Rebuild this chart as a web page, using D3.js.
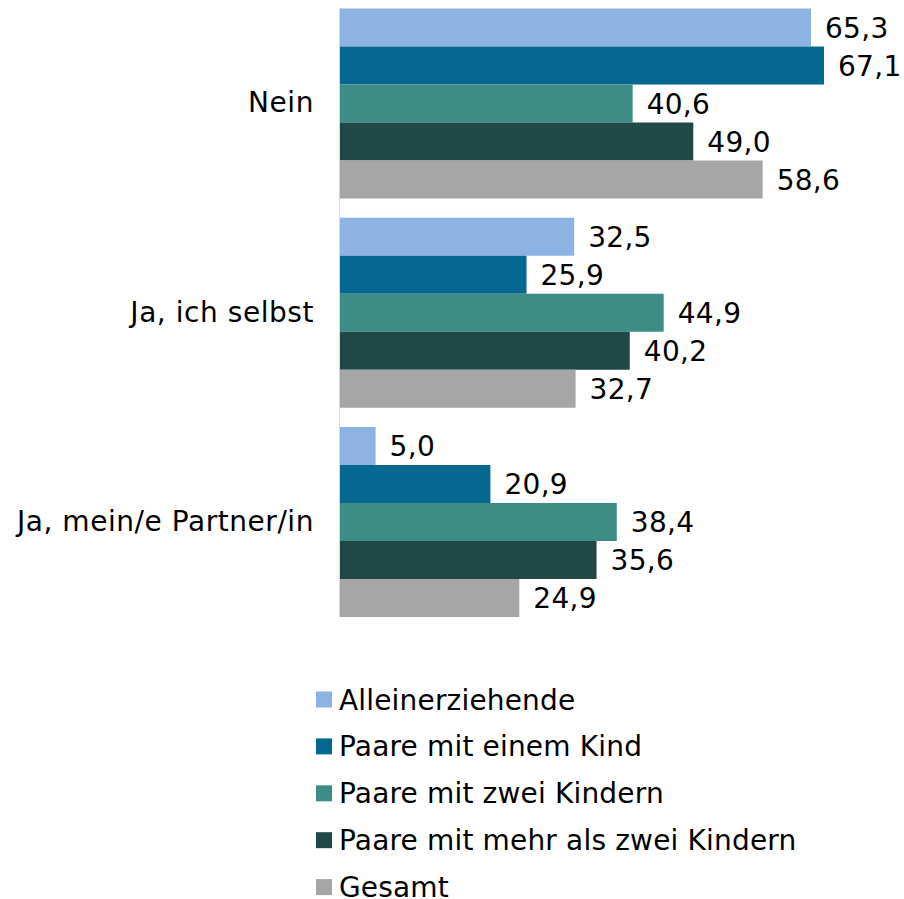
<!DOCTYPE html>
<html>
<head>
<meta charset="utf-8">
<script src="https://cdn.jsdelivr.net/npm/d3@7"></script>
<style>
  body { margin: 0; background: #fff; }
  svg text { font-family: "DejaVu Sans", Verdana, sans-serif; fill: #000; }
</style>
</head>
<body>
<div id="chart"></div>
<script>
// answers (rows of the chart)
var categories = ["Nein", "Ja, ich selbst", "Ja, mein/e Partner/in"];

// household types (series)
var series = ["Alleinerziehende", "Paare mit einem Kind", "Paare mit zwei Kindern",
              "Paare mit mehr als zwei Kindern", "Gesamt"];

var colors = ["#8db3e2", "#066891", "#3e8c86", "#1f4847", "#a6a6a6"];

// percent values, one array per series, in category order
var alleinerziehende = [65.3, 32.5, 5.0];
var einKind = [67.1, 25.9, 20.9];
var zweiKinder = [40.6, 44.9, 38.4];
var mehrKinder = [49.0, 40.2, 35.6];
var gesamt = [58.6, 32.7, 24.9];

var values = [alleinerziehende, einKind, zweiKinder, mehrKinder, gesamt];

var W = 904, H = 899;
var fmt = function(v) { return d3.format(".1f")(v).replace(".", ","); };

var svg = d3.select("#chart").append("svg")
    .attr("width", W)
    .attr("height", H);

var x = d3.scaleLinear()
    .domain([0, 67.1])
    .range([339.5, 824]);

var y = d3.scaleBand()
    .domain(categories)
    .range([8.5, 617])
    .paddingInner(0.092);

var ySub = d3.scaleBand()
    .domain(series)
    .range([0, y.bandwidth()]);

// flatten into one row per bar
var data = [];
categories.forEach(function(c, ci) {
    series.forEach(function(s, si) {
        data.push({ cat: c, ser: s, idx: si, value: values[si][ci] });
    });
});

var grp = svg.append("g");

grp.selectAll("rect.bar")
    .data(data)
  .enter().append("rect")
    .attr("class", "bar")
    .attr("x", x(0))
    .attr("y", function(d) { return y(d.cat) + ySub(d.ser); })
    .attr("width", function(d) { return x(d.value) - x(0); })
    .attr("height", ySub.bandwidth())
    .attr("fill", function(d) { return colors[d.idx]; });

// value labels
grp.selectAll("text.val")
    .data(data)
  .enter().append("text")
    .attr("class", "val")
    .attr("x", function(d) { return x(d.value) + 14; })
    .attr("y", function(d) { return y(d.cat) + ySub(d.ser) + ySub.bandwidth() / 2; })
    .attr("dy", "0.36em")
    .style("font-size", "28px")
    .style("letter-spacing", "0.3px")
    .text(function(d) { return fmt(d.value); });

// category axis
var axis = grp.append("g")
    .attr("transform", "translate(" + 339 + ",0)")
    .call(d3.axisLeft(y).tickSize(0).tickPadding(25));

axis.select(".domain").attr("stroke", "#d9d9d9").attr("d", "M0.5," + y.range()[0] + "V" + y.range()[1]);
axis.selectAll("text")
    .style("font-size", "28px")
    .style("letter-spacing", "0.55px")
    .attr("fill", "#000");

// legend
var legend = svg.append("g")
    .selectAll("g")
    .data(series)
  .enter().append("g")
    .attr("transform", function(d, i) { return "translate(316," + (699.5 + i * 46.9) + ")"; });

legend.append("rect")
    .attr("x", 0)
    .attr("y", -8)
    .attr("width", 16)
    .attr("height", 16)
    .attr("fill", function(d, i) { return colors[i]; });

legend.append("text")
    .attr("x", 23)
    .attr("y", 0)
    .attr("dy", "0.36em")
    .style("font-size", "28px")
    .style("letter-spacing", "0.17px")
    .text(function(d) { return d; });
</script>
</body>
</html>
